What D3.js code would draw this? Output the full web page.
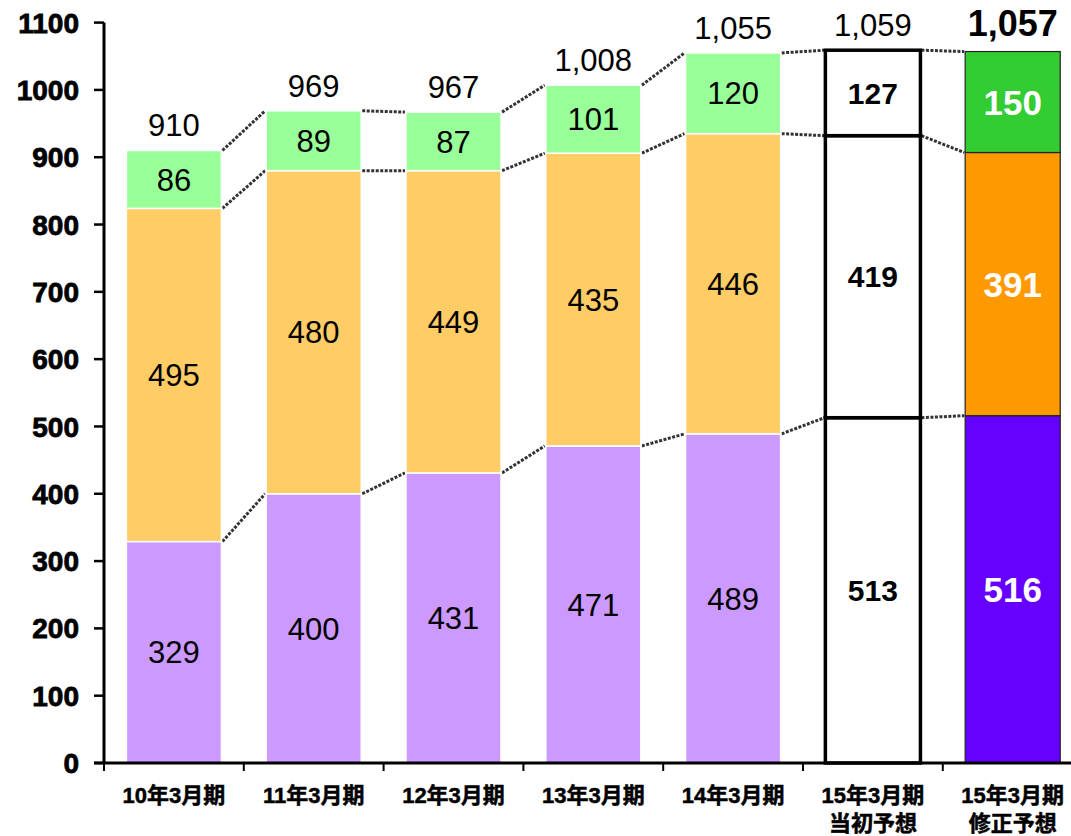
<!DOCTYPE html>
<html><head><meta charset="utf-8">
<script src="https://cdn.jsdelivr.net/npm/d3@7"></script>
<style>body{margin:0;background:#fff}svg{display:block}</style>
</head><body>
<svg id="c" width="1071" height="836"></svg>
<script>
const categories = ["10年3月期","11年3月期","12年3月期","13年3月期","14年3月期","15年3月期\n当初予想","15年3月期\n修正予想"];
const seriesBottom = [329,400,431,471,489,513,516];
const seriesMiddle = [495,480,449,435,446,419,391];
const seriesTop    = [86,89,87,101,120,127,150];
const totals       = ["910","969","967","1,008","1,055","1,059","1,057"];
const yTicks = [0,100,200,300,400,500,600,700,800,900,1000,1100];

const fillsNormal = ["#CC99FF","#FFCC66","#99FF99"];
const fillsFinal  = ["#6600FF","#FF9900","#33CC33"];

const svg = d3.select("#c");
const font = "'Liberation Sans', Arial, 'Noto Sans CJK JP', sans-serif";
const y = d3.scaleLinear().domain([0,1100]).range([763,22.6]);
const x = d3.scaleBand().domain(categories).range([104,1082.6]).paddingInner(0.32).paddingOuter(0.16);

const series = [seriesBottom, seriesMiddle, seriesTop];
const stacks = categories.map((c,i)=>{
  let acc = 0;
  return series.map((s,k)=>{ const y0=acc; acc+=s[i]; return {k, y0, y1:acc, v:s[i]}; });
});

// connectors
for (let i=0;i<categories.length-1;i++){
  for (let k=0;k<3;k++){
    const a = stacks[i][k].y1, b = stacks[i+1][k].y1;
    svg.append("line")
      .attr("x1", x(categories[i])+x.bandwidth()+1).attr("y1", y(a))
      .attr("x2", x(categories[i+1])-1).attr("y2", y(b))
      .attr("stroke","#333").attr("stroke-width",3).attr("stroke-dasharray","3,1.5");
  }
}

// bars
categories.forEach((c,i)=>{
  stacks[i].forEach(s=>{
    let fill, stroke, sw;
    if (i===5){ fill="#fff"; stroke="#000"; sw=3.5; }
    else if (i===6){ fill=fillsFinal[s.k]; stroke="#222"; sw=1.2; }
    else { fill=fillsNormal[s.k]; stroke="#fff"; sw=1.5; }
    svg.append("rect")
      .attr("x", x(c)).attr("width", x.bandwidth())
      .attr("y", y(s.y1)).attr("height", y(s.y0)-y(s.y1))
      .attr("fill", fill).attr("stroke", stroke).attr("stroke-width", sw);
  });
});

// segment labels
categories.forEach((c,i)=>{
  stacks[i].forEach(s=>{
    svg.append("text")
      .attr("x", x(c)+x.bandwidth()/2).attr("y", y((s.y0+s.y1)/2))
      .attr("dy","0.36em").attr("text-anchor","middle")
      .attr("font-family", font)
      .attr("font-size", i===6?35:(i===5?30:31))
      .attr("font-weight", i>=5?"bold":"normal")
      .attr("fill", i===6?"#fff":"#000")
      .text(s.v);
  });
  const tot = stacks[i][2].y1;
  svg.append("text")
    .attr("x", x(c)+x.bandwidth()/2).attr("y", y(tot)-(i===6?16:14))
    .attr("text-anchor","middle").attr("font-family", font)
    .attr("font-size", i===6?36:31).attr("font-weight", i===6?"bold":"normal")
    .attr("fill","#000").text(totals[i]);
});

// y axis
svg.append("line").attr("x1",104).attr("x2",104).attr("y1",y(1100)).attr("y2",y(0))
  .attr("stroke","#000").attr("stroke-width",3);
yTicks.forEach(t=>{
  svg.append("line").attr("x1",94).attr("x2",104).attr("y1",y(t)).attr("y2",y(t))
    .attr("stroke","#000").attr("stroke-width",2.5);
  svg.append("text").attr("x",79).attr("y",y(t)).attr("dy","0.36em")
    .attr("text-anchor","end").attr("font-family",font).attr("font-weight","bold")
    .attr("font-size",28).attr("fill","#000")
    .attr("stroke","#000").attr("stroke-width",0.8)
    .text(t);
});

// x axis
svg.append("line").attr("x1",94).attr("x2",1071).attr("y1",763).attr("y2",763)
  .attr("stroke","#000").attr("stroke-width",3);
const step = x.step();
for (let i=0;i<categories.length;i++){
  const xx = i===0 ? 104 : x(categories[i]) - (step - x.bandwidth())/2;
  svg.append("line").attr("x1",xx).attr("x2",xx).attr("y1",763).attr("y2",771)
    .attr("stroke","#000").attr("stroke-width",2);
}
categories.forEach((c,i)=>{
  const lines = c.split("\n");
  const t = svg.append("text").attr("x", x(c)+x.bandwidth()/2).attr("y",803)
    .attr("text-anchor","middle").attr("font-family",font).attr("font-weight","bold")
    .attr("font-size",22).attr("fill","#000")
    .attr("stroke","#000").attr("stroke-width",0.5);
  lines.forEach((l,j)=>{
    t.append("tspan").attr("x", x(c)+x.bandwidth()/2).attr("dy", j===0?0:28).text(l);
  });
});
</script>
</body></html>
